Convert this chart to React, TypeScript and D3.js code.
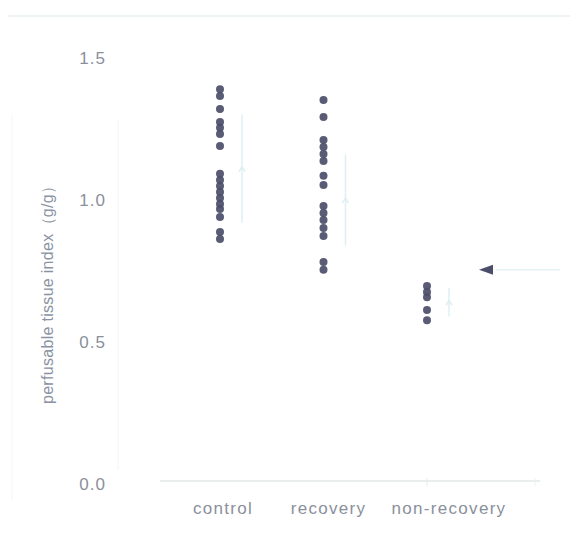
import React from "react";
import * as d3 from "d3";

const categories = ["control", "recovery", "non-recovery"];
const controlValues = [1.39, 1.366, 1.32, 1.275, 1.254, 1.232, 1.19, 1.092, 1.07, 1.049, 1.028, 1.007, 0.986, 0.968, 0.94, 0.887, 0.863];
const recoveryValues = [1.352, 1.292, 1.211, 1.187, 1.162, 1.137, 1.085, 1.053, 0.979, 0.954, 0.93, 0.901, 0.873, 0.782, 0.754];
const nonRecoveryValues = [0.697, 0.676, 0.658, 0.613, 0.577];
const groupMeans = [1.11, 1.0, 0.64];
const groupSDs = [0.19, 0.16, 0.05];
const yTicks = [0, 0.5, 1.0, 1.5];
const thresholdValue = 0.754;

const W = 576;
const H = 541;

export default function App() {
  const y = d3.scaleLinear().domain([0, 1.5]).range([484, 58]);
  const x = d3.scalePoint<string>().domain(categories).range([220, 427]);
  const groups = [controlValues, recoveryValues, nonRecoveryValues];
  const labelShift = [3, 5, 22];
  const font = "'Liberation Sans', Arial, Helvetica, sans-serif";
  const textColor = "#8a909c";

  return (
    <svg width={W} height={H} style={{ position: "absolute", left: 0, top: 0, background: "#fff" }}>
      {/* faint frame lines */}
      <line x1={8} x2={570} y1={16} y2={16} stroke="#e8f0f3" strokeWidth={1.5} />
      <line x1={12} x2={12} y1={115} y2={500} stroke="#f3f6f7" strokeWidth={1} />
      <line x1={118} x2={118} y1={120} y2={470} stroke="#f1f5f6" strokeWidth={1} />
      <line x1={160} x2={540} y1={y(0) - 3} y2={y(0) - 3} stroke="#e3e8ea" strokeWidth={1.5} />
      <line x1={x("non-recovery")} x2={x("non-recovery")} y1={y(0) - 6} y2={y(0) + 2} stroke="#e6eaec" />
      <line x1={535} x2={535} y1={y(0) - 6} y2={y(0) + 2} stroke="#eef0f1" />

      {/* y tick labels */}
      {yTicks.map((t) => (
        <text key={t} x={106} y={y(t)} dy="0.35em" textAnchor="end" fontFamily={font} fontSize={17} letterSpacing={1} fill={textColor}>
          {d3.format(".1f")(t)}
        </text>
      ))}

      {/* y axis title */}
      <text
        transform={`translate(53,${y(0.68)}) rotate(-90)`}
        textAnchor="middle"
        fontFamily={font}
        fontSize={16}
        letterSpacing={0.3}
        fill="#8a93a3"
      >
        perfusable tissue index（g/g）
      </text>

      {/* category labels */}
      {categories.map((c, i) => (
        <text key={c} x={(x(c) as number) + labelShift[i]} y={514} textAnchor="middle" fontFamily={font} fontSize={17} letterSpacing={1.3} fill={textColor}>
          {c}
        </text>
      ))}

      {/* mean ± SD bars */}
      {categories.map((c, i) => {
        const cx = (x(c) as number) + 22;
        return (
          <g key={c} stroke="#deeff4" strokeWidth={1.5} fill="none">
            <line x1={cx} x2={cx} y1={y(groupMeans[i] + groupSDs[i])} y2={y(groupMeans[i] - groupSDs[i])} />
            <path d={`M${cx - 3},${y(groupMeans[i]) + 3}L${cx},${y(groupMeans[i]) - 2}L${cx + 3},${y(groupMeans[i]) + 3}`} />
          </g>
        );
      })}

      {/* individual points */}
      {groups.map((vals, i) =>
        vals.map((v, j) => (
          <circle key={`${i}-${j}`} cx={x(categories[i]) as number} cy={y(v)} r={4} fill="#4b4e68" opacity={0.92} />
        ))
      )}

      {/* threshold marker */}
      <line x1={496} x2={560} y1={y(thresholdValue)} y2={y(thresholdValue)} stroke="#e6f1f4" strokeWidth={1.5} />
      <path
        d={`M${479},${y(thresholdValue)}L${493},${y(thresholdValue) - 5}L${493},${y(thresholdValue) + 5}Z`}
        fill="#4b4e68"
      />
    </svg>
  );
}
